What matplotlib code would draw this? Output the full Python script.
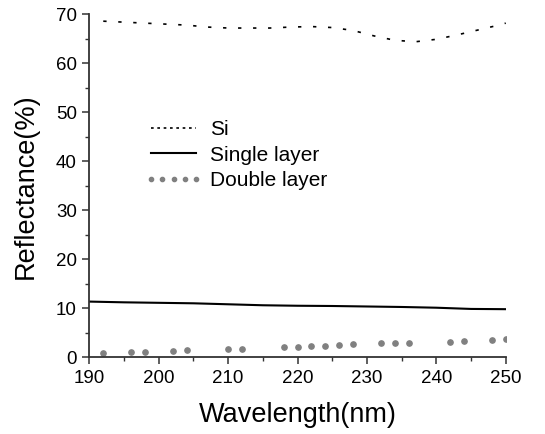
import matplotlib
matplotlib.use("Agg")
import matplotlib.pyplot as plt
from matplotlib.ticker import MultipleLocator

plt.rcParams['font.family'] = ['Liberation Sans', 'DejaVu Sans']

# Si (bare substrate)
si_x = [192, 195, 198, 201, 204, 207, 210, 213, 216, 219, 222, 225, 228,
        231, 234, 237, 240, 243, 246, 249, 250]
si_y = [68.6, 68.4, 68.2, 68.0, 67.8, 67.4, 67.2, 67.2, 67.2, 67.4, 67.5,
        67.3, 66.7, 65.6, 64.7, 64.4, 64.9, 65.8, 66.8, 67.8, 68.2]

# single layer coating
single_x = [190, 195, 200, 205, 210, 215, 220, 225, 230, 235, 240, 245, 250]
single_y = [11.35, 11.2, 11.1, 11.0, 10.8, 10.6, 10.5, 10.45, 10.35, 10.25,
            10.1, 9.85, 9.8]

# double layer coating
double_x = [192, 196, 198, 202, 204, 210, 212, 218, 220, 222, 224, 226, 228,
            232, 234, 236, 242, 244, 248, 250]
double_y = [0.88, 1.02, 1.14, 1.35, 1.43, 1.63, 1.76, 2.04, 2.16, 2.31, 2.37,
            2.51, 2.65, 2.86, 2.92, 2.98, 3.18, 3.27, 3.53, 3.73]

fig = plt.figure(figsize=(5.45, 4.34), dpi=100)
ax = fig.add_axes([0.164, 0.177, 0.764, 0.79])

ax.plot(si_x, si_y, color='black', lw=1.2, dashes=(2, 7), label='Si')
ax.plot(single_x, single_y, color='black', lw=1.5, label='Single layer')
ax.plot(double_x, double_y, ls='none', marker='o', ms=3.8, color='#808080',
        label='Double layer')

ax.set_xlim(190, 250)
ax.set_ylim(0, 70)
ax.xaxis.set_major_locator(MultipleLocator(10))
ax.xaxis.set_minor_locator(MultipleLocator(5))
ax.yaxis.set_major_locator(MultipleLocator(10))
ax.yaxis.set_minor_locator(MultipleLocator(5))

for s in ['top', 'right']:
    ax.spines[s].set_visible(False)
for s in ['left', 'bottom']:
    ax.spines[s].set_linewidth(1.3)
    ax.spines[s].set_color('#333333')

ax.tick_params(which='major', length=5, width=1.1, labelsize=13.5, pad=4,
               color='#333333')
ax.tick_params(which='minor', length=3, width=1.0, color='#333333')

ax.set_xlabel('Wavelength(nm)', fontsize=19.5, labelpad=11)
ax.set_ylabel('Reflectance(%)', fontsize=19.5, labelpad=12)

leg = ax.legend(loc='upper left', bbox_to_anchor=(0.112, 0.715), frameon=False,
                fontsize=15, numpoints=5, handlelength=2.8, handletextpad=0.35,
                labelspacing=0.3, borderaxespad=0, markerscale=0.8)
leg.get_lines()[0].set_dashes([1.6, 2.2])

fig.savefig('out.png', dpi=100)
